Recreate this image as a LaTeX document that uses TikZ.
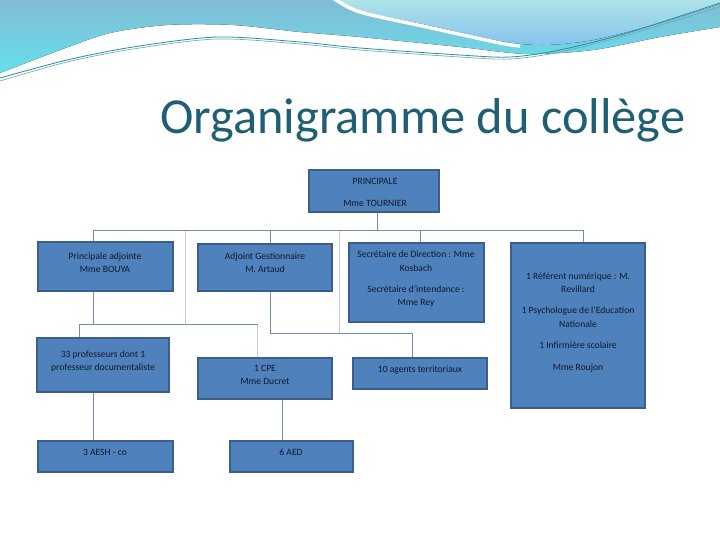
\documentclass[tikz,border=0pt]{standalone}
\usepackage{fontspec}
\setmainfont{Carlito}
\definecolor{boxfill}{HTML}{4F81BD}
\definecolor{boxline}{HTML}{3A5F8C}
\definecolor{txtcol}{HTML}{0E1A2C}
\definecolor{linecol}{HTML}{6F8DAE}
\definecolor{faintcol}{HTML}{C2CBD4}
\definecolor{titlecol}{HTML}{1E5F74}
\definecolor{waveAtop}{HTML}{84BCD5}
\definecolor{waveAbot}{HTML}{62E0EC}
\definecolor{waveBtop}{HTML}{AEE3E8}
\definecolor{waveBbot}{HTML}{86C3EC}
\definecolor{tealline}{HTML}{2B8C9C}
\tikzset{
  box/.style={draw=boxline, fill=boxfill, line width=0.8pt, inner sep=0pt, rectangle},
  txt/.style={font=\fontsize{7.2}{10}\selectfont, text=txtcol, inner sep=0pt, anchor=center, text height=4.8pt, text depth=0pt},
  conn/.style={draw=linecol, line width=0.75pt},
  faint/.style={draw=faintcol, line width=0.75pt},
}
\begin{document}
\begin{tikzpicture}[x=0.75pt,y=-0.75pt]
\useasboundingbox (0,0) rectangle (720,540);
\fill[white] (0,0) rectangle (720,540);
% waves
\fill[top color=waveAtop, bottom color=waveAbot] (0,0) -- (720,0) -- plot[smooth] coordinates {(720,27) (660,37) (593,50) (527,54) (460,47) (360,37) (300,32) (233,25) (167,25) (110,33) (60,50) (0,73)} -- cycle;
\fill[top color=waveBtop, bottom color=waveBbot] (335,0) -- (720,0) -- plot[smooth] coordinates {(720,4) (660,23) (593,40) (543,45) (500,41) (427,25) (360,11) (335,0)} -- cycle;
\draw[white, line width=2.6pt] plot[smooth] coordinates {(333,-2) (360,12) (427,27) (500,43) (520,46)};
\draw[tealline, line width=0.6pt] plot[smooth] coordinates {(0,78) (67,60) (133,47) (217,37) (300,42) (360,48) (460,55) (510,57) (560,50) (627,33) (720,3)};
\draw[tealline!70, line width=0.5pt] plot[smooth] coordinates {(0,81) (67,62) (133,49) (217,39) (300,44) (360,50) (460,57) (510,59) (560,52) (627,35) (720,7)};
% title
\node[anchor=base west, font=\fontsize{37.8}{40}\selectfont, text=titlecol, inner sep=0pt] (title) at (160,133) {Organigramme du collège};
% boxes
\node[box, minimum width=97.5pt, minimum height=31.5pt] (p) at (374,191) {};
\node[box, minimum width=101.25pt, minimum height=36.75pt] (pa) at (105.5,266.5) {};
\node[box, minimum width=100.5pt, minimum height=35.25pt] (ag) at (265,267.5) {};
\node[box, minimum width=101.25pt, minimum height=59.25pt] (sec) at (416.5,282.5) {};
\node[box, minimum width=100.5pt, minimum height=123.75pt] (ref) at (578,325.5) {};
\node[box, minimum width=99pt, minimum height=40.5pt] (prof) at (103,365) {};
\node[box, minimum width=100.5pt, minimum height=30.75pt] (cpe) at (265,378.5) {};
\node[box, minimum width=100.5pt, minimum height=23.25pt] (agt) at (420,373.5) {};
\node[box, minimum width=101.25pt, minimum height=23.25pt] (aesh) at (105.5,456.5) {};
\node[box, minimum width=92.25pt, minimum height=23.25pt] (aed) at (291.5,456.5) {};
% texts
\node[txt] (p1) at (375,181) {PRINCIPALE};
\node[txt] (p2) at (375,203) {Mme TOURNIER};
\node[txt] (pa1) at (105,256) {Principale adjointe};
\node[txt] (pa2) at (105,269) {Mme BOUYA};
\node[txt] (ag1) at (265,256) {Adjoint Gestionnaire};
\node[txt] (ag2) at (265,269) {M. Artaud};
\node[txt] (sec1) at (416,254) {Secrétaire de Direction : Mme};
\node[txt] (sec2) at (416,268) {Kosbach};
\node[txt] (sec3) at (416,289) {Secrétaire d’intendance :};
\node[txt] (sec4) at (416,302) {Mme Rey};
\node[txt] (ref1) at (578,276) {1 Référent numérique : M.};
\node[txt] (ref2) at (578,289) {Revillard};
\node[txt] (ref3) at (578,310) {1 Psychologue de l’Education};
\node[txt] (ref4) at (578,324) {Nationale};
\node[txt] (ref5) at (578,345) {1 Infirmière scolaire};
\node[txt] (ref6) at (578,367) {Mme Roujon};
\node[txt] (prof1) at (103,354) {33 professeurs dont 1};
\node[txt] (prof2) at (103,367) {professeur documentaliste};
\node[txt] (cpe1) at (265,368) {1 CPE};
\node[txt] (cpe2) at (265,381) {Mme Ducret};
\node[txt] (agt1) at (420,369) {10 agents territoriaux};
\node[txt] (aesh1) at (105,452) {3 AESH - co};
\node[txt] (aed1) at (291,452) {6 AED};
% junction coordinates
\coordinate (busL) at (93.5,230);
\coordinate (busR) at (583.5,230);
\coordinate (dAG) at (270,230);
\coordinate (dSEC) at (420,230);
\coordinate (g1) at (185.5,230);
\coordinate (g2) at (339,230);
\coordinate (hL1) at (79,324);
\coordinate (hL2) at (257.5,324);
\coordinate (hR1) at (270,333);
\coordinate (hR2) at (412,333);
% faint lines
\draw[faint] (g1) -- (g1 |- hL1);
\draw[faint] (g2) -- (g2 |- hR1);
\draw[faint] (hL2) -- (hL2 |- cpe.north);
% main connectors
\draw[conn] (p.south -| 377,0) -- (377,230);
\draw[conn] (busL) -- (busR);
\draw[conn] (busL) -- (busL |- pa.north);
\draw[conn] (dAG) -- (dAG |- ag.north);
\draw[conn] (dSEC) -- (dSEC |- sec.north);
\draw[conn] (busR) -- (busR |- ref.north);
\draw[conn] (busL |- pa.south) -- (busL |- hL1);
\draw[conn] (hL1) -- (hL2);
\draw[conn] (hL1) -- (hL1 |- prof.north);
\draw[conn] (hR1 |- ag.south) -- (hR1) -- (hR2) -- (hR2 |- agt.north);
\draw[conn] (busL |- prof.south) -- (busL |- aesh.north);
\draw[conn] (282,0 |- cpe.south) -- (282,0 |- aed.north);
\end{tikzpicture}
\end{document}
